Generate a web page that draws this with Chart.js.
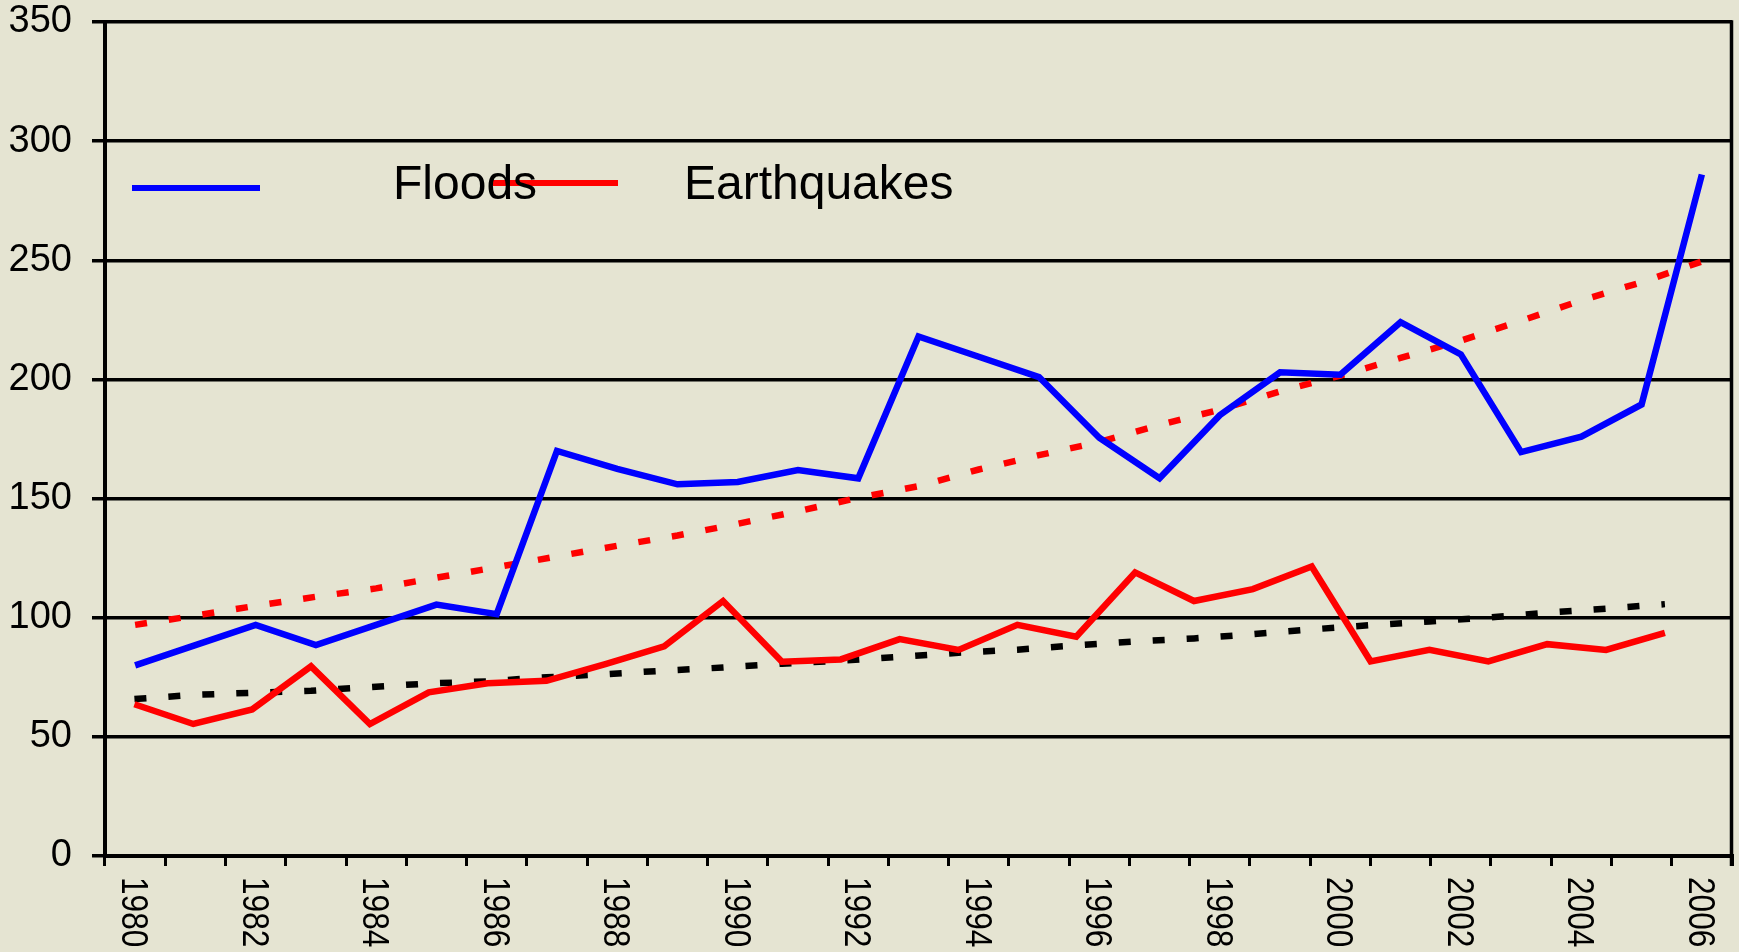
<!DOCTYPE html>
<html>
<head>
<meta charset="utf-8">
<title>Floods and Earthquakes, 1980-2006</title>
<script src="https://cdn.jsdelivr.net/npm/chart.js@4.4.1/dist/chart.umd.min.js"></script>
<style>
  html, body { margin: 0; padding: 0; background: #E5E4D2; }
  #wrap { width: 1739px; height: 952px; }
  canvas { display: block; }
</style>
</head>
<body>
<div id="wrap"><canvas id="chart" width="1739" height="952"></canvas></div>
<script>
// Yearly event counts
const years = ['1980','1981','1982','1983','1984','1985','1986','1987','1988','1989',
               '1990','1991','1992','1993','1994','1995','1996','1997','1998','1999',
               '2000','2001','2002','2003','2004','2005','2006'];

const floods = [80, 88.5, 97, 88.5, 97, 105.5, 101.5, 170, 162.5, 156,
                157, 162, 158.5, 218, 209.5, 201, 175.5, 158.5, 185, 203,
                202, 224, 210.5, 169.5, 176, 189.5, 286];

const earthquakes = [63.7, 55.4, 61.5, 79.6, 55.4, 68.7, 72.5, 73.5, 80.5, 88,
                     107, 81.5, 82.5, 91, 86.5, 97, 92, 119, 107, 112,
                     121.5, 81.7, 86.5, 81.7, 88.9, 86.5, 93.6];

// Fitted trend curves
const floodsTrend = [97, 100.9, 105, 108.8, 112.3, 116.8, 121.2, 125.7, 130.2, 134.5,
                     139.4, 144.7, 150.3, 155.2, 162.2, 168.2, 173.7, 180.9, 187.3, 195,
                     201.6, 209, 216.3, 224.6, 233.2, 240.8, 249.5];

const earthquakesTrend = [65.9, 67.6, 68.5, 69.3, 70.9, 72.4, 73.3, 75, 76.3, 77.8,
                          79.1, 80.7, 82, 83.6, 85.3, 86.6, 88.4, 90, 91.3, 93.1,
                          95.1, 96.9, 98.4, 100.1, 102.1, 103.8, 105.7];

const yTicks = [0, 50, 100, 150, 200, 250, 300, 350];
const seriesNames = ['Floods', 'Earthquakes'];

const PAPER = '#E5E4D2';
const FONT = '"Liberation Sans", Arial, Helvetica, sans-serif';
const LINE_W = 6.5;
const DOTS = [12, 22];

// earthquake series sit on their own year axis
const quakePoints = earthquakes.map((v, i) => ({ x: Number(years[i]), y: v }));
const quakeTrendPoints = earthquakesTrend.map((v, i) => ({ x: Number(years[i]), y: v }));

const paperPlugin = {
  id: 'paper',
  beforeDraw(chart) {
    const { ctx, width, height } = chart;
    ctx.save();
    ctx.fillStyle = PAPER;
    ctx.fillRect(0, 0, width, height);
    ctx.restore();
  }
};

const framePlugin = {
  id: 'frame',
  beforeDatasetsDraw(chart) {
    const { ctx, chartArea } = chart;
    ctx.save();
    ctx.strokeStyle = '#000';
    ctx.lineWidth = 3.5;
    ctx.beginPath();
    ctx.moveTo(chartArea.right - 0.5, chartArea.top - 1.75);
    ctx.lineTo(chartArea.right - 0.5, chartArea.bottom + 10);
    ctx.stroke();
    ctx.restore();
  }
};

const yearLabelPlugin = {
  id: 'yearLabels',
  afterDraw(chart) {
    const s = chart.scales.x;
    const ctx = chart.ctx;
    ctx.save();
    ctx.font = '36px ' + FONT;
    ctx.fillStyle = '#000';
    ctx.textAlign = 'left';
    ctx.textBaseline = 'middle';
    years.forEach((label, i) => {
      if (i % 2) return;
      const px = s.getPixelForValue(i);
      ctx.save();
      ctx.translate(px - 3, s.top + 21);
      ctx.rotate(Math.PI / 2);
      ctx.scale(0.88, 1);
      ctx.fillText(label, 0, 0);
      ctx.restore();
    });
    ctx.restore();
  }
};

const legendPlugin = {
  id: 'lineKey',
  afterDatasetsDraw(chart) {
    const ctx = chart.ctx;
    const ds = chart.data.datasets;
    const keys = [
      { color: ds[0].borderColor, x0: 132, x1: 260, y: 188, tx: 393, name: seriesNames[0] },
      { color: ds[1].borderColor, x0: 493, x1: 618, y: 183, tx: 684, name: seriesNames[1] }
    ];
    ctx.save();
    ctx.lineWidth = 6;
    keys.forEach(k => {
      ctx.strokeStyle = k.color;
      ctx.beginPath();
      ctx.moveTo(k.x0, k.y);
      ctx.lineTo(k.x1, k.y);
      ctx.stroke();
    });
    ctx.font = '48px ' + FONT;
    ctx.fillStyle = '#000';
    ctx.textAlign = 'left';
    ctx.textBaseline = 'alphabetic';
    keys.forEach(k => ctx.fillText(k.name, k.tx, 199));
    ctx.restore();
  }
};

new Chart(document.getElementById('chart'), {
  type: 'line',
  data: {
    labels: years,
    datasets: [
      {
        label: seriesNames[0],
        data: floods,
        xAxisID: 'x',
        borderColor: '#0000FF',
        borderWidth: LINE_W,
        pointRadius: 0,
        tension: 0,
        fill: false
      },
      {
        label: seriesNames[1],
        data: quakePoints,
        xAxisID: 'x2',
        borderColor: '#FF0000',
        borderWidth: LINE_W,
        pointRadius: 0,
        tension: 0,
        fill: false
      },
      {
        label: seriesNames[0] + ' trend',
        data: floodsTrend,
        xAxisID: 'x',
        borderColor: '#FF0000',
        borderWidth: LINE_W,
        borderDash: DOTS,
        pointRadius: 0,
        tension: 0,
        fill: false
      },
      {
        label: seriesNames[1] + ' trend',
        data: quakeTrendPoints,
        xAxisID: 'x2',
        borderColor: '#000000',
        borderWidth: LINE_W,
        borderDash: DOTS,
        pointRadius: 0,
        tension: 0,
        fill: false
      }
    ]
  },
  options: {
    responsive: false,
    animation: false,
    devicePixelRatio: 1,
    layout: { padding: { top: 22, right: 7, left: 0, bottom: 0 } },
    plugins: {
      legend: { display: false },
      tooltip: { enabled: false },
      title: { display: false }
    },
    scales: {
      x: {
        type: 'category',
        offset: true,
        grid: {
          offset: true,
          drawOnChartArea: false,
          drawTicks: true,
          tickLength: 10,
          color: '#000',
          lineWidth: 3
        },
        border: { display: true, color: '#000', width: 4 },
        ticks: { display: false },
        afterFit(scale) {
          scale.height = 96;
          scale.paddingLeft = 0;
          scale.paddingRight = 0;
        }
      },
      x2: {
        type: 'linear',
        display: false,
        min: 1979.5,
        max: 2007.14
      },
      y: {
        type: 'linear',
        min: 0,
        max: 350,
        afterBuildTicks(scale) { scale.ticks = yTicks.map(v => ({ value: v })); },
        grid: {
          color: '#000',
          lineWidth: 3.5,
          drawTicks: true,
          tickLength: 13
        },
        border: { display: true, color: '#000', width: 4 },
        ticks: {
          color: '#000',
          padding: 20,
          font: { family: FONT, size: 38 }
        },
        afterFit(scale) {
          scale.width = 105;
          scale.paddingTop = 0;
          scale.paddingBottom = 0;
        }
      }
    }
  },
  plugins: [paperPlugin, framePlugin, yearLabelPlugin, legendPlugin]
});
</script>
</body>
</html>
